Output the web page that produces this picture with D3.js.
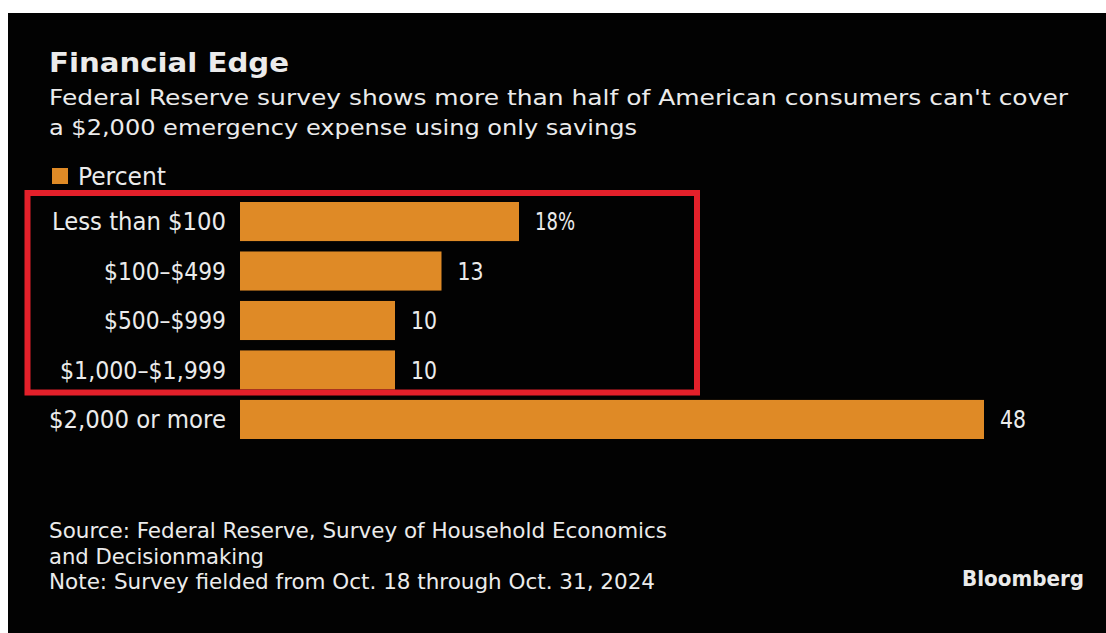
<!DOCTYPE html>
<html>
<head>
<meta charset="utf-8">
<script src="https://cdn.jsdelivr.net/npm/d3@7"></script>
<style>
  html, body { margin: 0; padding: 0; background: #ffffff; }
  svg { display: block; }
  .narrow { font-stretch: condensed; }
</style>
</head>
<body>
<svg id="chart" width="1106" height="633"></svg>
<script>
// Savings available to cover a $2,000 emergency expense, share of consumers
const categories = ["Less than $100", "$100–$499", "$500–$999", "$1,000–$1,999", "$2,000 or more"];
const values = [18, 13, 10, 10, 48];
const valueLabels = ["18%", "13", "10", "10", "48"];
const highlighted = ["Less than $100", "$100–$499", "$500–$999", "$1,000–$1,999"];

const title = "Financial Edge";
const subtitleLines = [
  "Federal Reserve survey shows more than half of American consumers can't cover",
  "a $2,000 emergency expense using only savings"
];
const legendLabel = "Percent";
const footnoteLines = [
  "Source: Federal Reserve, Survey of Household Economics",
  "and Decisionmaking",
  "Note: Survey fielded from Oct. 18 through Oct. 31, 2024"
];
const brand = "Bloomberg";

const W = 1106, H = 633;
const ORANGE = "#df8a26";
const INK = "#ebebeb";
const RED = "#e3202a";
const SANS = "'DejaVu Sans', Verdana, sans-serif";
const NARROW = "'DejaVu Sans Condensed', 'DejaVu Sans', sans-serif";

const svg = d3.select("#chart");

// dark panel
svg.append("rect").attr("x", 8).attr("y", 13).attr("width", W - 8).attr("height", H - 13).attr("fill", "#020202");

// stretch or squeeze a text element to a given width
function fit(sel, w) {
  sel.attr("textLength", w).attr("lengthAdjust", "spacingAndGlyphs");
  return sel;
}

// heading
fit(svg.append("text").attr("x", 49).attr("y", 72)
  .attr("font-family", SANS).attr("font-weight", "bold").attr("font-size", 26)
  .attr("fill", INK).text(title), 240);

const subWidths = [1019, 588];
subtitleLines.forEach((t, i) => {
  fit(svg.append("text").attr("x", 49).attr("y", 105 + i * 30)
    .attr("font-family", SANS).attr("font-size", 22)
    .attr("fill", INK).text(t), subWidths[i]);
});

// legend
svg.append("rect").attr("x", 52).attr("y", 168).attr("width", 16).attr("height", 16).attr("fill", ORANGE);
fit(svg.append("text").attr("class", "narrow").attr("x", 78).attr("y", 185)
  .attr("font-family", NARROW).attr("font-size", 24)
  .attr("fill", INK).text(legendLabel), 88);

// scales
const x = d3.scaleLinear().domain([0, 48]).range([240, 984]);
const y = d3.scaleBand().domain(categories).range([202, 439]).paddingInner(0.21).paddingOuter(0);

const rows = categories.map((c, i) => ({ c, v: values[i], label: valueLabels[i] }));

svg.append("g").selectAll("rect").data(rows).join("rect")
  .attr("x", x(0))
  .attr("y", d => y(d.c))
  .attr("width", d => x(d.v) - x(0))
  .attr("height", y.bandwidth())
  .attr("fill", ORANGE);

// category axis labels, right aligned against the bars
const yAxis = d3.axisLeft(y).tickSize(0).tickPadding(14);
const ag = svg.append("g").attr("transform", `translate(${x(0)},0)`).call(yAxis);
ag.select(".domain").remove();
const labelWidths = { "Less than $100": 174, "$100–$499": 122, "$500–$999": 122, "$1,000–$1,999": 166, "$2,000 or more": 177 };
ag.selectAll(".tick text")
  .attr("class", "narrow")
  .attr("font-family", NARROW).attr("font-size", 24).attr("fill", INK)
  .attr("dy", "0.37em")
  .each(function (d) { fit(d3.select(this), labelWidths[d]); });

// value labels
const valueWidths = { "18%": 40, "13": 26, "10": 26, "48": 26 };
svg.append("g").selectAll("text").data(rows).join("text")
  .attr("class", "narrow")
  .attr("x", d => x(d.v) + 16)
  .attr("y", d => y(d.c) + y.bandwidth() / 2)
  .attr("dy", "0.37em")
  .attr("font-family", NARROW).attr("font-size", 24).attr("fill", INK)
  .text(d => d.label)
  .each(function (d) { fit(d3.select(this), valueWidths[d.label]); });

// red outline around the groups short of $2,000
const hi = highlighted.map(c => y(c));
const boxTop = d3.min(hi) - 9;
const boxBottom = d3.max(hi) + y.bandwidth() + 3;
svg.append("rect")
  .attr("x", 27.5).attr("y", boxTop)
  .attr("width", 697 - 27.5).attr("height", boxBottom - boxTop)
  .attr("fill", "none").attr("stroke", RED).attr("stroke-width", 6);

// footnotes
const footWidths = [618, 215, 606];
footnoteLines.forEach((t, i) => {
  fit(svg.append("text").attr("class", "narrow").attr("x", 49).attr("y", 538 + i * 25.5)
    .attr("font-family", NARROW).attr("font-size", 21)
    .attr("fill", INK).text(t), footWidths[i]);
});

fit(svg.append("text").attr("x", 962).attr("y", 586)
  .attr("font-family", SANS).attr("font-weight", "bold").attr("font-size", 21)
  .attr("fill", INK).text(brand), 122);
</script>
</body>
</html>
